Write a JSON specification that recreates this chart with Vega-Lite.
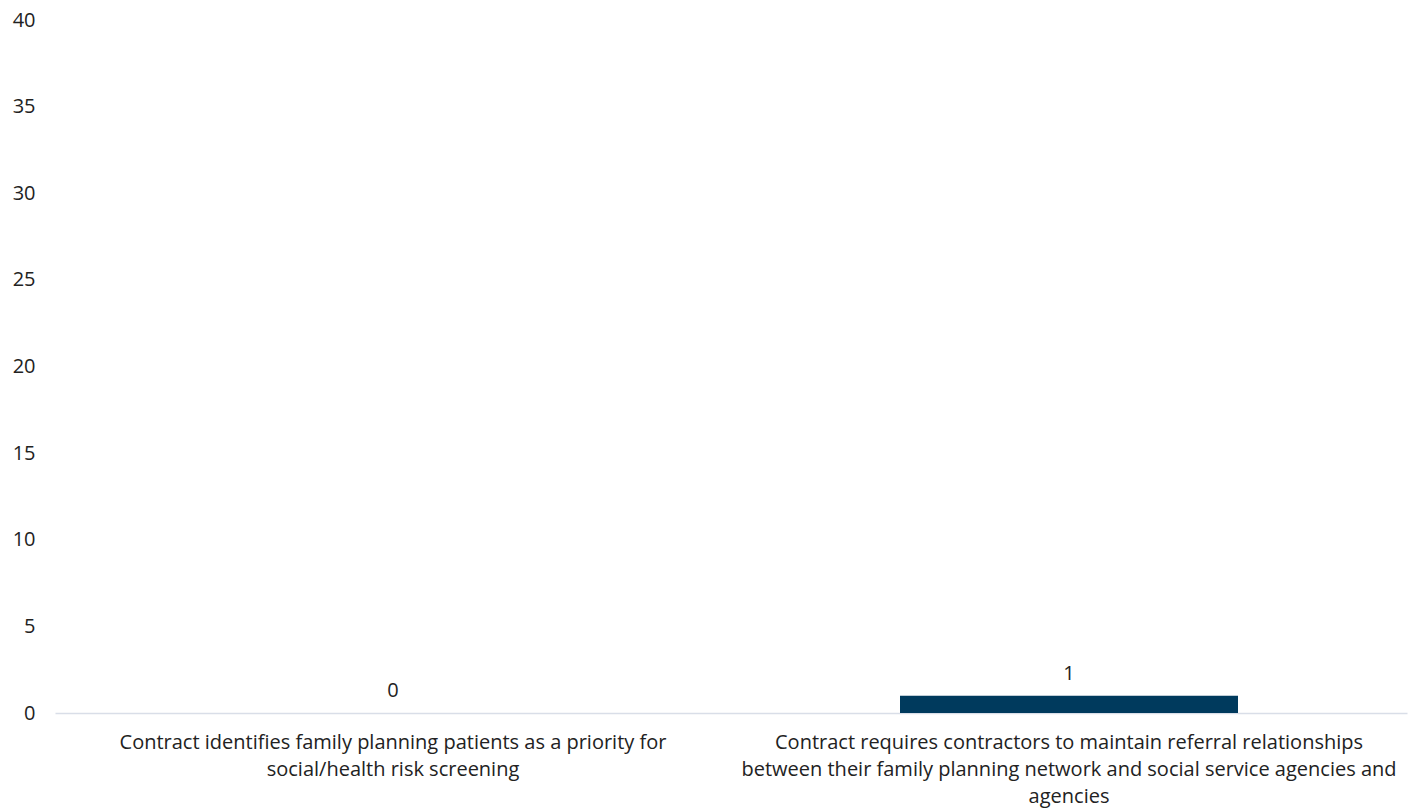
{
  "$schema": "https://vega.github.io/schema/vega-lite/v6.json",
  "width": 1352,
  "height": 693,
  "autosize": {"type": "none"},
  "padding": {"left": 55, "top": 20, "right": 13, "bottom": 96},
  "background": "white",
  "config": {"view": {"stroke": null}, "font": "Open Sans"},
  "data": {
    "values": [
      {"criterion": "Contract identifies family planning patients as a priority for social/health risk screening", "count": 0},
      {"criterion": "Contract requires contractors to maintain referral relationships between their family planning network and social service agencies and agencies", "count": 1}
    ]
  },
  "encoding": {
    "x": {
      "field": "criterion",
      "type": "nominal",
      "sort": null,
      "scale": {"paddingInner": 0.5, "paddingOuter": 0.25},
      "axis": {
        "title": null,
        "labelAngle": 0,
        "labelFont": "Open Sans",
        "labelFontSize": 20,
        "labelColor": "#222222",
        "labelLineHeight": 27,
        "labelPadding": 19,
        "labelLimit": 0,
        "ticks": false,
        "domainColor": "#D9DEE8",
        "domainWidth": 1.5,
        "labelExpr": "indexof(datum.label, 'identifies') >= 0 ? ['Contract identifies family planning patients as a priority for', 'social/health risk screening'] : ['Contract requires contractors to maintain referral relationships', 'between their family planning network and social service agencies and', 'agencies']"
      }
    },
    "y": {
      "field": "count",
      "type": "quantitative",
      "scale": {"domain": [0, 40]},
      "axis": {
        "title": null,
        "values": [0, 5, 10, 15, 20, 25, 30, 35, 40],
        "grid": false,
        "domain": false,
        "ticks": false,
        "labelFont": "Open Sans",
        "labelFontSize": 20,
        "labelColor": "#222222",
        "labelPadding": 20
      }
    }
  },
  "layer": [
    {"mark": {"type": "bar", "color": "#003A5D"}},
    {
      "mark": {"type": "text", "baseline": "bottom", "dy": -12, "fontSize": 20, "font": "Open Sans", "color": "#222222"},
      "encoding": {"text": {"field": "count", "type": "quantitative"}}
    }
  ]
}
